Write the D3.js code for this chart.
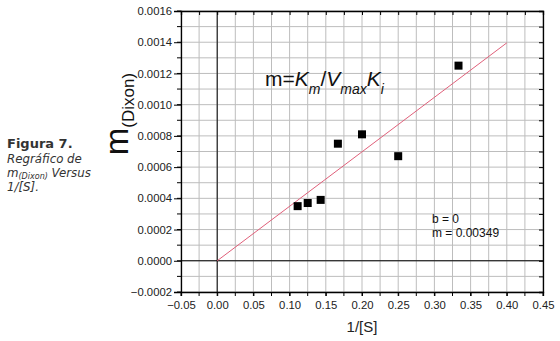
<!DOCTYPE html>
<html>
<head>
<meta charset="utf-8">
<script src="https://cdn.jsdelivr.net/npm/d3@7"></script>
<style>
  body { margin: 0; background: #fff; }
  svg text { font-family: 'Liberation Sans', Arial, sans-serif; }
  svg .caption text { font-family: 'DejaVu Sans', Verdana, sans-serif; font-size: 11.8px; fill: #333; }
</style>
</head>
<body>
<svg class="chart" width="560" height="341"></svg>
<script>
const chart = d3.select('.chart');

// data
const invS = [0.1111, 0.125, 0.1429, 0.1667, 0.2, 0.25, 0.3333];
const mDixon = [0.00035, 0.00037, 0.00039, 0.00075, 0.00081, 0.00067, 0.00125];
const slope = 0.00349;
const fitX = [0, 0.4];
const xTicks = [-0.05, 0, 0.05, 0.1, 0.15, 0.2, 0.25, 0.3, 0.35, 0.4, 0.45];
const yTicks = [-0.0002, 0, 0.0002, 0.0004, 0.0006, 0.0008, 0.001, 0.0012, 0.0014, 0.0016];

const margin = { left: 181, top: 11, right: 17, bottom: 49 };
const width = 560 - margin.left - margin.right;
const height = 341 - margin.top - margin.bottom;

const x = d3.scaleLinear().domain([-0.05, 0.45]).range([0, width]);
const y = d3.scaleLinear().domain([-0.0002, 0.0016]).range([height, 0]);

const minorX = d3.range(-0.05, 0.4501, 0.025);
const minorY = d3.range(-0.0002, 0.00160001, 0.0001);

const g = chart.append('g')
    .attr('transform', `translate(${margin.left} ${margin.top})`);

// grid
g.append('g').selectAll('line').data(minorX).join('line')
    .attr('x1', d => x(d)).attr('x2', d => x(d))
    .attr('y1', 0).attr('y2', height)
    .attr('stroke', '#bdbdbd').attr('stroke-width', 1);
g.append('g').selectAll('line').data(minorY).join('line')
    .attr('x1', 0).attr('x2', width)
    .attr('y1', d => y(d)).attr('y2', d => y(d))
    .attr('stroke', '#bdbdbd').attr('stroke-width', 1);

// zero lines
g.append('line')
    .attr('x1', x(0)).attr('x2', x(0)).attr('y1', 0).attr('y2', height)
    .attr('stroke', '#000');
g.append('line')
    .attr('x1', 0).attr('x2', width).attr('y1', y(0)).attr('y2', y(0))
    .attr('stroke', '#000');

// axes
const xAxis = g.append('g')
    .attr('transform', `translate(0, ${height})`)
    .call(d3.axisBottom(x).tickValues(xTicks).tickSize(4).tickPadding(5)
        .tickFormat(d3.format('.2f')));
xAxis.append('g').selectAll('line').data(minorX).join('line')
    .attr('x1', d => x(d)).attr('x2', d => x(d)).attr('y1', 0).attr('y2', 4)
    .attr('stroke', '#000');

const yAxis = g.append('g')
    .call(d3.axisLeft(y).tickValues(yTicks).tickSize(7).tickPadding(2)
        .tickFormat(d3.format('.4f')));
yAxis.append('g').selectAll('line').data(minorY).join('line')
    .attr('x1', -4).attr('x2', 0).attr('y1', d => y(d)).attr('y2', d => y(d))
    .attr('stroke', '#000');

g.append('g')
    .call(d3.axisTop(x).tickValues(minorX).tickSize(-4).tickFormat(''));
g.append('g')
    .attr('transform', `translate(${width}, 0)`)
    .call(d3.axisRight(y).tickValues(minorY).tickSize(-4).tickFormat(''));

g.selectAll('.domain').attr('stroke', '#000').attr('stroke-width', 1.3);
g.selectAll('.tick line').attr('stroke', '#000');
g.selectAll('.tick text')
    .attr('fill', '#222')
    .style('font-family', "'Liberation Sans', Arial, sans-serif")
    .style('font-size', '11.3px');

// fit line
g.append('line')
    .attr('x1', x(fitX[0])).attr('y1', y(fitX[0] * slope))
    .attr('x2', x(fitX[1])).attr('y2', y(fitX[1] * slope))
    .attr('stroke', '#e0607a').attr('stroke-width', 1);

// points
g.append('g').selectAll('rect').data(invS).join('rect')
    .attr('x', (d, i) => x(d) - 4)
    .attr('y', (d, i) => y(mDixon[i]) - 4)
    .attr('width', 8).attr('height', 8)
    .attr('fill', '#000');

// axis labels
g.append('text')
    .attr('x', width / 2).attr('y', height + 40)
    .attr('text-anchor', 'middle')
    .style('font-size', '15px').attr('fill', '#222')
    .text('1/[S]');

const yl = chart.append('text')
    .attr('transform', 'translate(128, 114) rotate(-90)')
    .attr('text-anchor', 'middle')
    .attr('fill', '#111');
yl.append('tspan').style('font-size', '33px').text('m');
yl.append('tspan').style('font-size', '17px').attr('dy', 6).text('(Dixon)');

// equation
const eq = g.append('text')
    .attr('x', 84).attr('y', 75)
    .attr('fill', '#111')
    .style('font-size', '21px');
eq.append('tspan').text('m=');
eq.append('tspan').style('font-style', 'italic').text('K');
eq.append('tspan').style('font-size', '14px').style('font-style', 'italic').attr('dy', 8).text('m');
eq.append('tspan').attr('dy', -8).text('/');
eq.append('tspan').style('font-style', 'italic').text('V');
eq.append('tspan').style('font-size', '14px').style('font-style', 'italic').attr('dy', 8).text('max');
eq.append('tspan').style('font-style', 'italic').attr('dy', -8).text('K');
eq.append('tspan').style('font-size', '14px').style('font-style', 'italic').attr('dy', 8).text('i');

g.append('text')
    .attr('x', 251).attr('y', 212)
    .style('font-size', '12px').attr('fill', '#111')
    .text('b = 0');
g.append('text')
    .attr('x', 251).attr('y', 226)
    .style('font-size', '12px').attr('fill', '#111')
    .text('m = 0.00349');

// caption
const cap = chart.append('g').attr('class', 'caption');
cap.append('text').attr('x', 7).attr('y', 148)
    .style('font-weight', 'bold').style('font-size', '13px').text('Figura 7.');
cap.append('text').attr('x', 7).attr('y', 163)
    .style('font-style', 'italic').text('Regráfico de');
const c3 = cap.append('text').attr('x', 7).attr('y', 177).style('font-style', 'italic');
c3.append('tspan').text('m');
c3.append('tspan').style('font-size', '8px').attr('dy', 2).text('(Dixon)');
c3.append('tspan').attr('dy', -2).text(' Versus');
cap.append('text').attr('x', 7).attr('y', 191)
    .style('font-style', 'italic').text('1/[S].');
</script>
</body>
</html>
